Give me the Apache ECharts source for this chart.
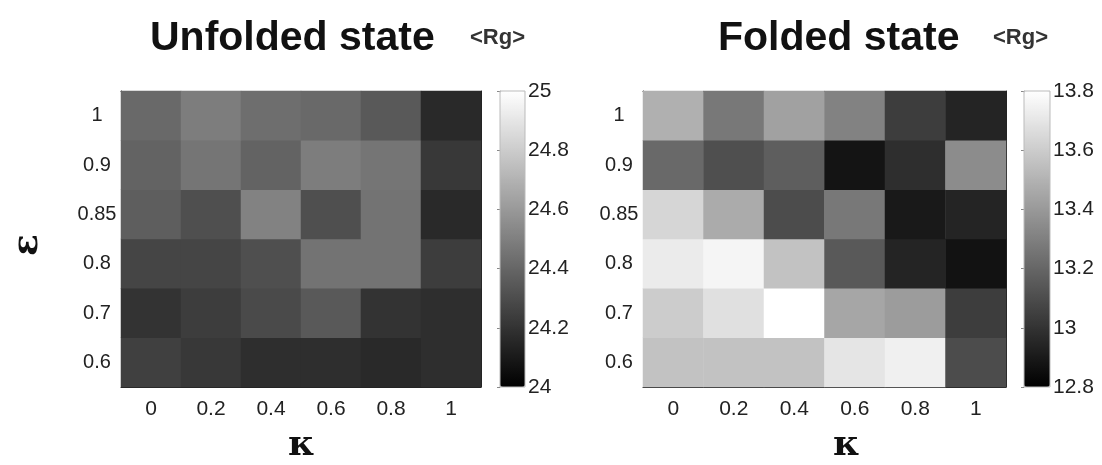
<!DOCTYPE html>
<html>
<head>
<meta charset="utf-8">
<script src="https://cdn.jsdelivr.net/npm/echarts@6/dist/echarts.min.js"></script>
<style>
  html, body { margin: 0; background: #fff; }
  #chart { width: 1102px; height: 465px; }
</style>
</head>
<body>
<div id="chart"></div>
<script>
// axis categories
const kappa = ['0', '0.2', '0.4', '0.6', '0.8', '1'];
const eps = ['0.6', '0.7', '0.8', '0.85', '0.9', '1'];

// <Rg> values, one row per eps (bottom row eps=0.6 first), columns follow kappa
const unfolded = [
    [24.25, 24.22, 24.18, 24.18, 24.16, 24.18],
    [24.20, 24.24, 24.29, 24.35, 24.20, 24.18],
    [24.27, 24.27, 24.31, 24.45, 24.45, 24.24],
    [24.37, 24.31, 24.51, 24.31, 24.45, 24.16],
    [24.39, 24.46, 24.39, 24.49, 24.46, 24.22],
    [24.41, 24.49, 24.43, 24.41, 24.35, 24.16]
];
const folded = [
    [13.56, 13.56, 13.56, 13.70, 13.74, 13.10],
    [13.60, 13.68, 13.80, 13.45, 13.41, 13.04],
    [13.72, 13.76, 13.56, 13.15, 12.94, 12.87],
    [13.64, 13.47, 13.10, 13.27, 12.90, 12.94],
    [13.21, 13.11, 13.17, 12.88, 12.98, 13.35],
    [13.49, 13.27, 13.43, 13.31, 13.04, 12.94]
];

// colour bar ranges
const unfoldedRange = [24, 25];
const foldedRange = [12.8, 13.8];

function toCells(rows) {
    let out = [];
    rows.forEach((row, yi) => row.forEach((v, xi) => out.push([xi, yi, v])));
    return out;
}

let myChart = echarts.init(document.getElementById('chart'));

const font = 'Liberation Sans, Arial, sans-serif';
const lineStyle = { color: '#222', width: 1 };

function catX(grid, top) {
    return {
        type: 'category', data: kappa, gridIndex: grid,
        position: top ? 'top' : 'bottom',
        axisLine: { lineStyle: lineStyle },
        axisTick: { inside: true, alignWithLabel: true, length: 4, lineStyle: lineStyle },
        axisLabel: {
            show: !top, color: '#222', fontSize: 21, margin: 12,
            fontFamily: 'Liberation Sans Narrow, Liberation Sans, sans-serif'
        },
        splitLine: { show: false }
    };
}
function catY(grid, right) {
    return {
        type: 'category', data: eps, gridIndex: grid,
        position: right ? 'right' : 'left',
        axisLine: { lineStyle: lineStyle },
        axisTick: { inside: true, alignWithLabel: true, length: 4, lineStyle: lineStyle },
        axisLabel: {
            show: !right, color: '#222', fontSize: 20, margin: 24,
            align: 'center', fontFamily: font
        },
        splitLine: { show: false }
    };
}
function barX(grid) {
    return { type: 'value', gridIndex: grid, show: false, min: 0, max: 1 };
}
function barY(grid, range) {
    return {
        type: 'value', gridIndex: grid, position: 'right',
        min: range[0], max: range[1], interval: 0.2,
        axisLine: { show: true, lineStyle: { color: '#bbb', width: 1 } },
        axisTick: { show: true, inside: true, length: 3, lineStyle: { color: '#888' } },
        axisLabel: { color: '#222', fontSize: 21, margin: 3, fontFamily: font },
        splitLine: { show: false }
    };
}

option = {
    animation: false,
    backgroundColor: '#fff',
    grid: [
        { left: 121, top: 91, width: 360, height: 296 },
        { left: 643, top: 91, width: 363, height: 296 },
        { left: 500, top: 91, width: 25, height: 296, show: true, borderColor: '#bbb', z: 5, backgroundColor: 'transparent' },
        { left: 1024, top: 91, width: 26, height: 296, show: true, borderColor: '#bbb', z: 5, backgroundColor: 'transparent' }
    ],
    xAxis: [
        catX(0, false), catX(0, true),
        catX(1, false), catX(1, true),
        barX(2), barX(3)
    ],
    yAxis: [
        catY(0, false), catY(0, true),
        catY(1, false), catY(1, true),
        barY(2, unfoldedRange), barY(3, foldedRange)
    ],
    visualMap: [
        {
            type: 'continuous', seriesIndex: 0,
            min: unfoldedRange[0], max: unfoldedRange[1],
            inRange: { color: ['#000000', '#ffffff'] },
            left: 500, top: 91, itemWidth: 25, itemHeight: 296,
            padding: 0, calculable: false, hoverLink: false,
            text: ['', ''], showLabel: false
        },
        {
            type: 'continuous', seriesIndex: 1,
            min: foldedRange[0], max: foldedRange[1],
            inRange: { color: ['#000000', '#ffffff'] },
            left: 1024, top: 91, itemWidth: 26, itemHeight: 296,
            padding: 0, calculable: false, hoverLink: false,
            text: ['', ''], showLabel: false
        }
    ],
    series: [
        {
            type: 'heatmap', xAxisIndex: 0, yAxisIndex: 0,
            data: toCells(unfolded), z: 1
        },
        {
            type: 'heatmap', xAxisIndex: 2, yAxisIndex: 2,
            data: toCells(folded), z: 1
        }
    ],
    graphic: [
        { type: 'text', left: 150, top: 18, style: { text: 'Unfolded state', font: 'bold 41px ' + font, fill: '#111' } },
        { type: 'text', left: 470, top: 27, style: { text: '<Rg>', font: 'bold 22px ' + font, fill: '#333' } },
        { type: 'text', left: 718, top: 18, style: { text: 'Folded state', font: 'bold 41px ' + font, fill: '#111' } },
        { type: 'text', left: 993, top: 27, style: { text: '<Rg>', font: 'bold 22px ' + font, fill: '#333' } },
        { type: 'text', left: 288, top: 428, style: { text: 'κ', font: 'bold 36px DejaVu Serif, serif', fill: '#111' } },
        { type: 'text', left: 833, top: 428, style: { text: 'κ', font: 'bold 36px DejaVu Serif, serif', fill: '#111' } },
        {
            type: 'text', x: 28, y: 245, rotation: Math.PI / 2,
            style: { text: 'ε', font: 'bold 36px DejaVu Serif, serif', fill: '#111', align: 'center', verticalAlign: 'middle' }
        }
    ]
};

myChart.setOption(option);
</script>
</body>
</html>
